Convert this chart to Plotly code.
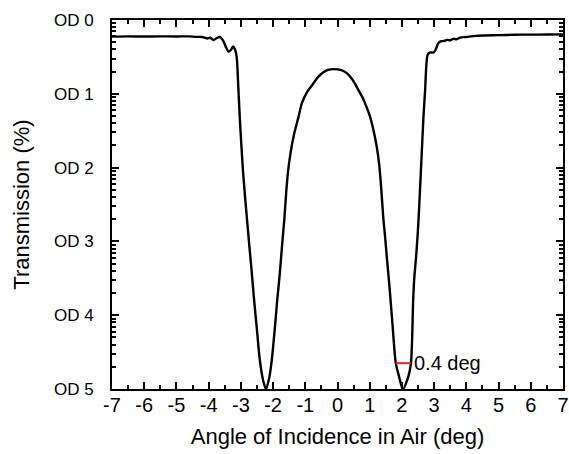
import numpy as np
import plotly.graph_objects as go

# Angle of incidence (deg) and optical density
angle = [-7.0, -6.5, -6.0, -5.5, -5.0, -4.6, -4.4, -4.2, -4.05, -3.95, -3.85, -3.75,
         -3.65, -3.55, -3.45, -3.38, -3.3, -3.24, -3.18, -3.13, -3.08, -3.03, -2.93,
         -2.8, -2.66, -2.59, -2.5, -2.41, -2.3, -2.22, -2.12, -2.04, -1.95, -1.87,
         -1.79, -1.72, -1.65, -1.6, -1.54, -1.45, -1.35, -1.22, -1.1, -0.95, -0.75,
         -0.6, -0.45, -0.3, -0.1, 0.1, 0.29, 0.45, 0.55, 0.65, 0.8, 0.92, 1.01,
         1.12, 1.22, 1.3, 1.36, 1.42, 1.48, 1.53, 1.58, 1.63, 1.72,
         1.81, 1.91, 2.03, 2.2, 2.28, 2.35, 2.38, 2.45, 2.51, 2.61, 2.67, 2.72,
         2.76, 2.8, 2.88, 2.98, 3.05, 3.12, 3.2, 3.3, 3.4, 3.5, 3.6, 3.7, 3.8,
         4.0, 4.3, 4.6, 5.0, 5.5, 6.0, 6.5, 7.0]
od = [0.225, 0.222, 0.224, 0.222, 0.223, 0.222, 0.228, 0.23, 0.25, 0.24, 0.27, 0.245,
      0.23, 0.28, 0.38, 0.43, 0.40, 0.36, 0.40, 0.50, 0.9, 1.35, 2.07,
      2.75, 3.43, 3.79, 4.2, 4.61, 4.9, 5.0, 4.85, 4.61, 4.2, 3.79,
      3.43, 3.05, 2.7, 2.38, 2.07, 1.78, 1.55, 1.33, 1.12, 0.98, 0.86,
      0.77, 0.71, 0.675, 0.665, 0.675, 0.72, 0.8, 0.87, 0.95, 1.07, 1.2, 1.31,
      1.5, 1.72, 1.98, 2.3, 2.67, 2.95, 3.21, 3.45, 3.7, 4.2,
      4.65, 4.83, 5.0, 4.83, 4.65, 3.79, 3.52, 3.15, 2.75, 1.85, 1.3, 0.95,
      0.6, 0.47, 0.44, 0.44, 0.40, 0.32, 0.29, 0.285, 0.27, 0.275, 0.255, 0.26, 0.24,
      0.23, 0.215, 0.21, 0.205, 0.2, 0.198, 0.197, 0.195]

# FWHM marker
fwhm_x = [1.81, 2.28]
fwhm_od = 4.65
fwhm_label = "0.4 deg"

x_ticks = list(range(-7, 8))
od_ticks = [0, 1, 2, 3, 4, 5]
od_labels = ["OD 0", "OD 1", "OD 2", "OD 3", "OD 4", "OD 5"]

trans = [100 * 10 ** (-v) for v in od]
y_tickvals = [100 * 10 ** (-v) for v in od_ticks]
minor_vals = [m * 10.0 ** e for e in range(-3, 2) for m in range(2, 10)]

fig = go.Figure()
fig.add_trace(go.Scatter(x=angle, y=trans, mode="lines",
                         line=dict(color="black", width=2.4, shape="spline", smoothing=0.8),
                         showlegend=False, hoverinfo="skip"))
fy = 100 * 10 ** (-fwhm_od)
fig.add_trace(go.Scatter(x=fwhm_x, y=[fy, fy], mode="lines",
                         line=dict(color="#e8262b", width=2), showlegend=False))
fig.add_annotation(x=fwhm_x[1] + 0.04, y=np.log10(fy), text=fwhm_label, showarrow=False,
                   xanchor="left", yanchor="middle",
                   font=dict(family="Liberation Sans, Arial", size=20, color="black"))

font = "Liberation Sans, Arial"
fig.update_layout(
    width=569, height=454,
    margin=dict(l=112, r=6, t=20, b=65),
    plot_bgcolor="white", paper_bgcolor="white",
    font=dict(family=font, color="black"),
    xaxis=dict(range=[-7, 7], tickmode="array", tickvals=x_ticks,
               ticktext=[str(v) for v in x_ticks], automargin=False,
               ticks="inside", ticklen=7, tickwidth=2, tickcolor="black",
               showline=True, linewidth=2, linecolor="black", mirror="ticks",
               showgrid=False, zeroline=False, ticklabelstandoff=-3,
               tickfont=dict(size=20, family=font),
               minor=dict(dtick=0.5, tick0=0, ticks="inside", ticklen=4, tickwidth=2,
                          tickcolor="black", showgrid=False),
               title=dict(text="Angle of Incidence in Air (deg)", font=dict(size=22, family=font),
                          standoff=14)),
    yaxis=dict(type="log", range=[-3, 2], tickmode="array", tickvals=y_tickvals,
               ticktext=od_labels, automargin=False,
               ticks="inside", ticklen=7, tickwidth=2, tickcolor="black",
               showline=True, linewidth=2, linecolor="black", mirror="ticks",
               showgrid=False, zeroline=False, ticklabelstandoff=13,
               tickfont=dict(size=17, family=font),
               minor=dict(tickmode="array", tickvals=minor_vals, ticks="inside", ticklen=4,
                          tickwidth=1.5, tickcolor="black", showgrid=False),
               title=dict(text="Transmission (%)", font=dict(size=22, family=font),
                          standoff=18)),
)

fig.write_html("out.html", config={"displayModeBar": False},
               post_script="document.body.style.margin='0';")
